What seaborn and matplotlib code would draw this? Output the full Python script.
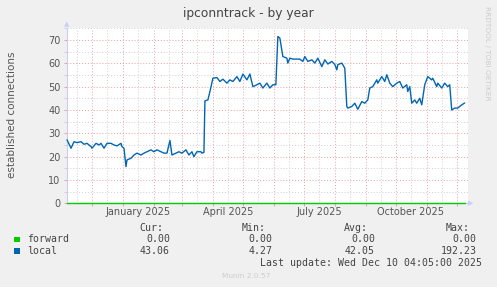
import matplotlib
matplotlib.use("Agg")
import matplotlib.pyplot as plt
import matplotlib.dates as mdates
from matplotlib.ticker import MultipleLocator, FuncFormatter, NullFormatter
from matplotlib.patches import Rectangle
import numpy as np
import pandas as pd
import seaborn as sns

# ---------------- data ----------------
start_date = "2024-11-06"
day_offsets = [0, 4, 7, 10, 14, 17, 20, 24, 25, 29, 32, 34, 37, 40, 44, 47, 50, 54, 55, 57,
               59, 60, 64, 67, 70, 74, 77, 80, 84, 87, 90, 94, 97, 100, 103, 105, 109, 112, 115, 119,
               122, 125, 127, 130, 134, 135, 137, 138, 141, 143, 146, 150, 153, 156, 160, 163, 166, 170, 173, 176,
               180, 183, 186, 190, 193, 196, 200, 203, 206, 209, 211, 213, 216, 220, 221, 223, 226, 230, 233, 236,
               238, 241, 245, 248, 251, 255, 258, 261, 265, 268, 270, 271, 275, 276, 278, 280, 281, 285, 288, 291,
               295, 298, 301, 303, 306, 310, 311, 315, 318, 320, 323, 326, 330, 333, 336, 340, 341, 343, 345, 348,
               350, 353, 355, 358, 361, 365, 366, 370, 371, 375, 378, 381, 383, 385, 388, 391, 395, 398]
local_values = [27.2, 23.6, 26.4, 26.0, 26.4, 25.3, 25.7, 24.3, 23.6, 25.7, 25.0, 25.7, 23.6, 25.7, 25.7, 25.0, 24.6, 25.7, 24.3, 23.6,
                15.7, 18.6, 19.3, 20.7, 21.5, 20.7, 21.5, 22.1, 22.9, 22.1, 22.9, 22.1, 21.5, 21.5, 26.9, 20.7, 21.5, 22.1, 21.5, 22.9,
                20.7, 22.1, 20.0, 22.1, 22.1, 21.5, 21.8, 43.9, 44.3, 47.9, 53.6, 53.9, 52.2, 53.2, 51.5, 52.9, 52.2, 54.3, 52.2, 55.4,
                52.9, 55.4, 50.0, 50.8, 51.5, 49.4, 51.5, 49.4, 50.8, 50.8, 71.5, 70.8, 62.9, 62.2, 60.1, 62.2, 61.8, 61.8, 61.8, 60.8,
                62.9, 60.8, 61.5, 60.1, 62.2, 58.6, 61.5, 59.7, 60.8, 59.5, 57.2, 59.4, 60.1, 59.4, 57.9, 41.5, 40.8, 41.5, 42.9, 40.3,
                43.6, 42.9, 44.3, 49.4, 50.0, 52.9, 51.5, 54.3, 52.2, 55.1, 51.5, 50.0, 51.5, 52.2, 49.4, 50.8, 47.9, 50.0, 42.9, 44.3,
                42.9, 45.0, 42.2, 50.8, 54.3, 52.9, 53.6, 50.0, 51.5, 49.4, 51.5, 50.0, 50.8, 40.0, 40.8, 40.8, 42.2, 43.0]
forward_values = [0.0 for _ in day_offsets]

series_names = ["forward", "local"]
series_colors = ["#00cc00", "#0066b3"]
legend_cur = ["0.00", "43.06"]
legend_min = ["0.00", "4.27"]
legend_avg = ["0.00", "42.05"]
legend_max = ["0.00", "192.23"]
labelled_months = {1: "January 2025", 4: "April 2025", 7: "July 2025", 10: "October 2025"}
title_text = "ipconntrack - by year"
ylabel_text = "established connections"
last_update = "Last update: Wed Dec 10 04:05:00 2025"

# ---------------- build frame ----------------
dates = pd.to_datetime(start_date) + pd.to_timedelta(day_offsets, unit="D")
df = pd.concat([
    pd.DataFrame({"date": dates, "value": forward_values, "series": series_names[0]}),
    pd.DataFrame({"date": dates, "value": local_values, "series": series_names[1]}),
])

sns.set_theme(style="white")
plt.rcParams["font.family"] = ["DejaVu Sans"]

W, H = 497, 287
fig = plt.figure(figsize=(W / 100, H / 100), dpi=100, facecolor="#f0f0f0")

def px(x, y):
    return x / W, 1 - y / H

L, R, T, B = 66.7, 467.7, 28.3, 203.3
ax = fig.add_axes([L / W, 1 - B / H, (R - L) / W, (B - T) / H])
ax.set_facecolor("white")

sns.lineplot(data=df, x="date", y="value", hue="series",
             palette=dict(zip(series_names, series_colors)),
             hue_order=series_names, ax=ax, legend=False, linewidth=1.0,
             estimator=None)
for ln in ax.lines:
    ln.set_clip_on(False)
    ln.set_zorder(4)

t0 = pd.to_datetime(start_date)
ax.set_xlim(t0 - pd.Timedelta(hours=8), t0 + pd.Timedelta(days=401))
ax.set_ylim(0, 75)

# grid
major_c = "#eaa0a0"
minor_c = "#cfcfcf"
ax.yaxis.set_major_locator(MultipleLocator(10))
ax.yaxis.set_minor_locator(MultipleLocator(5))
ax.xaxis.set_major_locator(mdates.MonthLocator(bymonthday=1))
ax.xaxis.set_minor_locator(mdates.MonthLocator(bymonthday=16))
ax.xaxis.set_major_formatter(NullFormatter())

def minor_fmt(v, pos):
    d = mdates.num2date(v)
    return labelled_months.get(d.month, "") if d.year == 2025 else ""

ax.xaxis.set_minor_formatter(FuncFormatter(minor_fmt))
ax.grid(which="major", color=major_c, linestyle=(0, (1, 2)), linewidth=0.7)
ax.grid(which="minor", color=minor_c, linestyle=(0, (1, 2)), linewidth=0.7)
ax.set_axisbelow(True)

ax.tick_params(axis="y", which="major", length=2, width=0.7, color=major_c, pad=2.5,
               labelsize=7, labelcolor="#555555", left=True)
ax.tick_params(axis="y", which="minor", length=2, width=0.7, color=minor_c, left=True)
ax.tick_params(axis="x", which="major", length=2, width=0.7, color=major_c, bottom=True)
ax.tick_params(axis="x", which="minor", length=0, pad=2.5, labelsize=7, labelcolor="#555555")

for s in ["top", "right"]:
    ax.spines[s].set_visible(False)
ax.spines["left"].set_color("#ccccee")
ax.spines["left"].set_linewidth(0.8)
ax.spines["bottom"].set_color("#ccccee")
ax.spines["bottom"].set_linewidth(0.8)
ax.set_xlabel("")
ax.set_ylabel("")

# axis arrows
fig.text(*px(66.7, 24.5), "\u25B2", fontsize=5, color="#ccccff", ha="center", va="center")
fig.text(*px(471, 203.3), "\u25B6", fontsize=5, color="#ccccff", ha="center", va="center")

# texts
fig.text(*px(248.5, 13), title_text, fontsize=8.8, color="#444444", ha="center", va="center")
fig.text(*px(12, 115), ylabel_text, fontsize=7.5, color="#555555", ha="center", va="center",
         rotation=90)
fig.text(*px(487.5, 53), "RRDTOOL / TOBI OETIKER", fontsize=5.3, color="#cccccc",
         ha="center", va="center", rotation=270)
fig.text(*px(246, 276.5), "Munin 2.0.57", fontsize=5.3, color="#cccccc", ha="center", va="center")

mono = dict(family="DejaVu Sans Mono", fontsize=7.1, color="#444444", va="center")
fig.text(*px(163.5, 227.7), "Cur:", ha="right", **mono)
fig.text(*px(266, 227.7), "Min:", ha="right", **mono)
fig.text(*px(368, 227.7), "Avg:", ha="right", **mono)
fig.text(*px(470, 227.7), "Max:", ha="right", **mono)
rows_y = [239.5, 251.2]
for i, name in enumerate(series_names):
    y = rows_y[i]
    fig.patches.append(Rectangle(px(14, y + 2.8), 5.8 / W, 5.8 / H, transform=fig.transFigure,
                                 facecolor=series_colors[i], edgecolor="none"))
    fig.text(*px(26.7, y), name, ha="left", **mono)
    fig.text(*px(170, y), legend_cur[i], ha="right", **mono)
    fig.text(*px(272.7, y), legend_min[i], ha="right", **mono)
    fig.text(*px(375, y), legend_avg[i], ha="right", **mono)
    fig.text(*px(476.7, y), legend_max[i], ha="right", **mono)
fig.text(*px(482.3, 263.3), last_update, ha="right", **mono)

fig.savefig("out.png", dpi=100, facecolor=fig.get_facecolor())
